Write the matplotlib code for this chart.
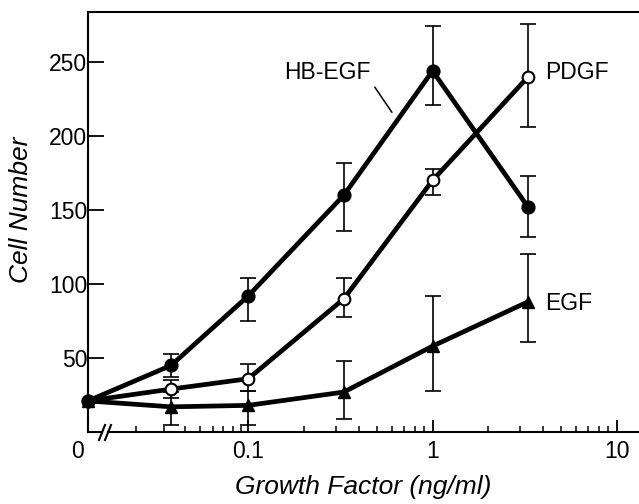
import numpy as np
import matplotlib
matplotlib.use("Agg")
import matplotlib.pyplot as plt
from matplotlib.lines import Line2D

# ---- data ----
conc = [0, 0.033, 0.1, 0.33, 1, 3.3]

hb_y = [21, 45, 92, 160, 244, 152]
hb_lo = [0, 8, 17, 24, 23, 20]
hb_hi = [0, 8, 12, 22, 30, 21]

pdgf_y = [21, 29, 36, 90, 170, 240]
pdgf_lo = [0, 6, 8, 12, 10, 34]
pdgf_hi = [0, 6, 10, 14, 8, 36]

egf_y = [21, 17, 18, 27, 58, 88]
egf_lo = [0, 12, 13, 18, 30, 27]
egf_hi = [0, 10, 10, 21, 34, 32]

yticks = [50, 100, 150, 200, 250]
xmajor = [0.1, 1, 10]
xmajor_labels = ["0.1", "1", "10"]
xminor = [0.02, 0.03, 0.04, 0.05, 0.06, 0.07, 0.08, 0.09,
          0.2, 0.3, 0.4, 0.5, 0.6, 0.7, 0.8, 0.9,
          2, 3, 4, 5, 6, 7, 8, 9]

plt.rcParams["font.family"] = ["Liberation Sans", "DejaVu Sans"]

# ---- scale: log axis with first decade compressed ----
K = 0.87


def fwd(x):
    x = np.asarray(x, dtype=float)
    with np.errstate(divide="ignore", invalid="ignore"):
        t = np.log10(np.clip(x, 0.01, None))
    return np.where(t < -1, -1 + (t + 1) * K, t)


def inv(t):
    t = np.asarray(t, dtype=float)
    u = np.where(t < -1, -1 + (t + 1) / K, t)
    return 10.0 ** u


fig = plt.figure(figsize=(6.39, 5.04), dpi=100)
W, H = 639, 504
L, R, B, T = 88, 639, 432, 11.7
ax = fig.add_axes([L / W, 1 - B / H, (R - L) / W, (B - T) / H])
ax.set_xscale("function", functions=(fwd, inv))
ax.set_xlim(0.01, 13.2)
ax.set_ylim(0, 284)

lw = 3.4
series = [
    (egf_y, egf_lo, egf_hi, dict(marker="^", ms=8.8, mfc="black", mec="black")),
    (pdgf_y, pdgf_lo, pdgf_hi, dict(marker="o", ms=8.4, mfc="white", mec="black", mew=1.5)),
    (hb_y, hb_lo, hb_hi, dict(marker="o", ms=9.2, mfc="black", mec="black")),
]
for y, lo, hi, mk in series:
    ax.errorbar(conc[1:], y[1:], yerr=[lo[1:], hi[1:]], fmt="none",
                ecolor="black", elinewidth=1.2, capsize=5.8, capthick=1.2,
                zorder=2, clip_on=False)
for y, lo, hi, mk in series:
    ax.plot(conc, y, color="black", lw=lw, zorder=3, clip_on=False, **mk)

# ---- axes styling ----
ax.spines["right"].set_visible(False)
ax.spines["bottom"].set_visible(False)
ax.spines["left"].set_linewidth(1.5)
ax.spines["top"].set_linewidth(1.5)

ax.set_yticks(yticks)
ax.set_yticklabels([str(v) for v in yticks])
ax.tick_params(axis="y", direction="in", length=11.5, width=1.3, labelsize=16.5, pad=0.5)

ax.set_xticks(xmajor)
ax.set_xticklabels(xmajor_labels)
ax.set_xticks(xminor, minor=True)
ax.tick_params(axis="x", which="major", direction="in", length=9, width=1.3,
               labelsize=16.5, pad=6)
ax.tick_params(axis="x", which="minor", direction="in", length=4.5, width=1.1)

# bottom spine with break marks
aw = R - L
ah = B - T


def ax_x(px):
    return (px - L) / aw


def ax_y(dpx):
    return dpx / ah


kw = dict(transform=ax.transAxes, color="black", lw=1.5, clip_on=False)
ax.add_line(Line2D([0, ax_x(102)], [0, 0], **kw))
ax.add_line(Line2D([ax_x(108), 1], [0, 0], **kw))
for cx in (102, 108):
    ax.add_line(Line2D([ax_x(cx - 3), ax_x(cx + 3)], [ax_y(-8), ax_y(7)], **kw))

# "0" label at the broken start
fig.text(77 / W, 1 - 452 / H, "0", ha="center", va="center", fontsize=16.5)

# axis labels
fig.text(21 / W, 1 - 210 / H, "Cell Number", rotation=90, ha="center", va="center",
         fontsize=19, style="italic")
fig.text(363 / W, 1 - 487 / H, "Growth Factor (ng/ml)", ha="center", va="center",
         fontsize=19, style="italic")

# series labels
ax.text(0.267, 243, "HB-EGF", fontsize=16.5, ha="center", va="center")
ax.annotate("", xy=(0.602, 216), xytext=(0.486, 233),
            arrowprops=dict(arrowstyle="-", lw=1.1, color="black",
                            shrinkA=0, shrinkB=0))
ax.text(4.07, 243, "PDGF", fontsize=16.5, ha="left", va="center")
ax.text(4.07, 87, "EGF", fontsize=16.5, ha="left", va="center")

fig.savefig("out.png", dpi=100)
